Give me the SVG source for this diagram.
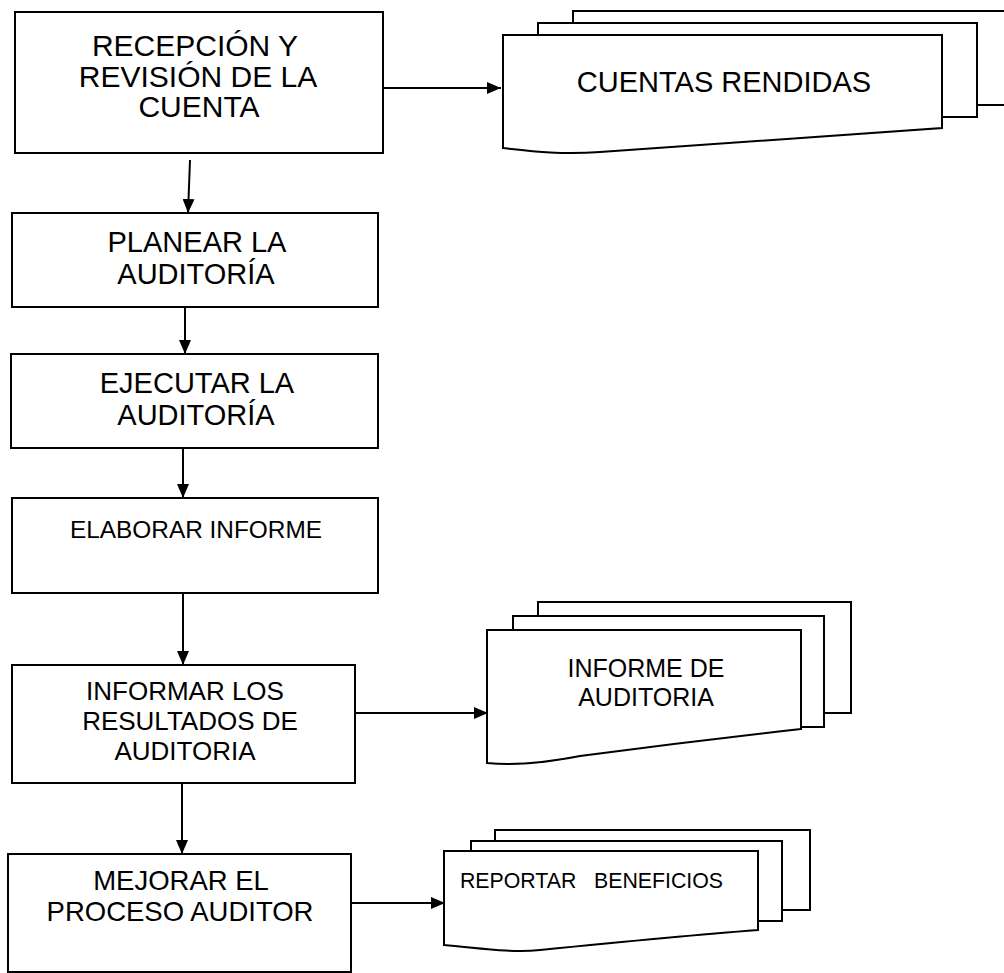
<svg xmlns="http://www.w3.org/2000/svg" width="1004" height="973" viewBox="0 0 1004 973">
<defs>
<style>
.box{fill:#fff;stroke:#000;stroke-width:2}
.doc{fill:#fff;stroke:#000;stroke-width:2;stroke-linejoin:miter}
.t{font-family:"Liberation Sans",Arial,sans-serif;fill:#000;text-anchor:middle}
.c{stroke:#000;stroke-width:2;fill:none;marker-end:url(#ah)}
</style>
<marker id="ah" markerUnits="userSpaceOnUse" markerWidth="14" markerHeight="12" refX="14" refY="6" orient="auto">
<path d="M0,0 L14,6 L0,12 Z" fill="#000"/>
</marker>
</defs>
<rect width="1004" height="973" fill="#fff"/>

<g id="n1">
<rect class="box" x="15" y="12" width="368" height="141"/>
<text class="t" font-size="30"><tspan x="195" y="56">RECEPCIÓN Y</tspan><tspan x="198" y="87">REVISIÓN DE LA</tspan><tspan x="199" y="117">CUENTA</tspan></text>
</g>

<g id="n2">
<rect class="box" x="12" y="213" width="366" height="94"/>
<text class="t" font-size="29"><tspan x="197" y="252">PLANEAR LA</tspan><tspan x="196" y="284">AUDITORÍA</tspan></text>
</g>

<g id="n3">
<rect class="box" x="11" y="354" width="367" height="94"/>
<text class="t" font-size="29"><tspan x="197" y="393">EJECUTAR LA</tspan><tspan x="196" y="425">AUDITORÍA</tspan></text>
</g>

<g id="n4">
<rect class="box" x="12" y="498" width="366" height="95"/>
<text class="t" font-size="23" x="196" y="538" textLength="252" lengthAdjust="spacingAndGlyphs">ELABORAR INFORME</text>
</g>

<g id="n5">
<rect class="box" x="12" y="665" width="343" height="118"/>
<text class="t" font-size="26"><tspan x="185" y="700">INFORMAR LOS</tspan><tspan x="190" y="730">RESULTADOS DE</tspan><tspan x="185" y="760">AUDITORIA</tspan></text>
</g>

<g id="n6">
<rect class="box" x="8" y="854" width="343" height="118"/>
<text class="t" font-size="27.5"><tspan x="181" y="890">MEJORAR EL</tspan><tspan x="180" y="921">PROCESO AUDITOR</tspan></text>
</g>

<g id="d1">
<path class="doc" d="M1006,11 H573 V23"/>
<path class="doc" d="M1006,105 H977"/>
<path class="doc" d="M538,35 V23 H977 V117 H942"/>
<path class="doc" d="M503,35 H942 V128 C820,136 700,145 600,152 C560,155 530,151 503,148 Z"/>
<text class="t" font-size="29" x="724" y="92">CUENTAS RENDIDAS</text>
</g>

<g id="d2">
<path class="doc" d="M538,616 V602 H851 V713 H824"/>
<path class="doc" d="M513,630 V616 H824 V727 H801"/>
<path class="doc" d="M487,630 H801 V729 C720,738 640,748 580,756 C550,762 520,766 487,763 Z"/>
<text class="t" font-size="25"><tspan x="646" y="677">INFORME DE</tspan><tspan x="646" y="706">AUDITORIA</tspan></text>
</g>

<g id="d3">
<path class="doc" d="M495,841 V830 H810 V910 H782"/>
<path class="doc" d="M471,851 V841 H782 V921 H758"/>
<path class="doc" d="M444,851 H758 V930 C680,936 600,944 540,950 C510,953 480,948 444,945 Z"/>
<text font-family="Liberation Sans, Arial, sans-serif" font-size="22.5" x="460" y="888" textLength="263" lengthAdjust="spacingAndGlyphs" xml:space="preserve">REPORTAR   BENEFICIOS</text>
</g>

<g id="connectors">
<path class="c" d="M383,88 H501"/>
<path class="c" d="M190,160 L188,213"/>
<path class="c" d="M185,307 V354"/>
<path class="c" d="M183,448 V498"/>
<path class="c" d="M183,593 V665"/>
<path class="c" d="M182,783 V854"/>
<path class="c" d="M355,713 H488"/>
<path class="c" d="M351,903 H445"/>
</g>
</svg>
